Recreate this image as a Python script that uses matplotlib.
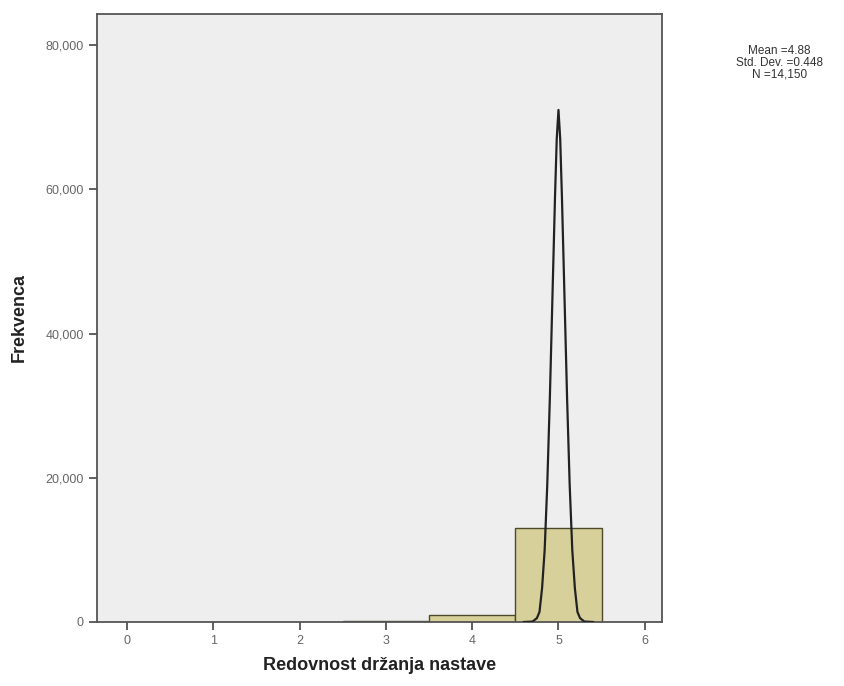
import matplotlib
matplotlib.use("Agg")
import matplotlib.pyplot as plt

plt.rcParams["font.family"] = ["Liberation Sans", "DejaVu Sans"]

# histogram bins (category centre) and counts
bin_centers = [3, 4, 5]
bin_counts = [200, 950, 13000]

# normal curve
curve_x = [4.60, 4.70, 4.75, 4.78, 4.81, 4.84, 4.87, 4.90, 4.93, 4.96, 4.98, 5.00,
           5.02, 5.04, 5.07, 5.10, 5.13, 5.16, 5.19, 5.22, 5.25, 5.30, 5.40]
curve_y = [0, 60, 540, 1400, 4700, 10000, 19000, 31000, 45000, 59000, 67000, 71000,
           67000, 59000, 45000, 31000, 19000, 10000, 4700, 1400, 540, 60, 0]

x_ticks = [0, 1, 2, 3, 4, 5, 6]
y_ticks = [0, 20000, 40000, 60000, 80000]
y_tick_labels = ["0", "20,000", "40,000", "60,000", "80,000"]

stats_text = "Mean =4.88\nStd. Dev. =0.448\nN =14,150"

fig = plt.figure(figsize=(8.45, 6.86), dpi=100)
ax = fig.add_axes([0.1148, 0.0933, 0.6686, 0.8863])
ax.set_facecolor("#eeeeee")

# bars
ax.bar(bin_centers, bin_counts, width=1.0, color="#d8d09a",
       edgecolor="#4d4a2c", linewidth=1.0, zorder=2)

# normal curve
ax.plot(curve_x, curve_y, color="#222222", lw=1.6, zorder=3)

ax.set_xlim(-0.35, 6.2)
ax.set_ylim(0, 84300)
ax.set_xticks(x_ticks)
ax.set_xticklabels([str(t) for t in x_ticks])
ax.set_yticks(y_ticks)
ax.set_yticklabels(y_tick_labels)

for s in ax.spines.values():
    s.set_color("#555555")
    s.set_linewidth(1.3)

ax.tick_params(direction="out", length=6, width=1.2, color="#444444",
               labelcolor="#666666", labelsize=9)

ax.set_xlabel("Redovnost držanja nastave", fontsize=13, fontweight="bold",
              color="#222222")
ax.xaxis.set_label_coords(0.5, -0.058)
ax.set_ylabel("Frekvenca", fontsize=13, fontweight="bold", color="#222222")
ax.yaxis.set_label_coords(-0.122, 0.5)

fig.text(0.922, 0.935, stats_text, ha="center", va="top", fontsize=8.5,
         color="#333333", linespacing=1.0)

plt.savefig("out.png", dpi=100)
